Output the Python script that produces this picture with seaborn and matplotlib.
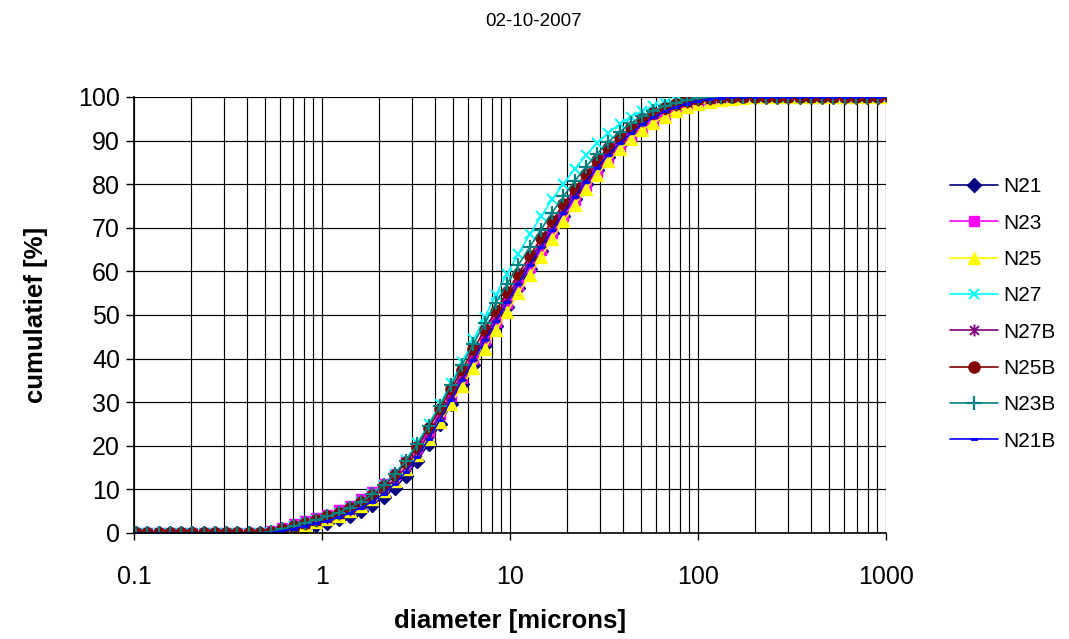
import matplotlib
matplotlib.use("Agg")
import matplotlib.pyplot as plt
from matplotlib.path import Path
from matplotlib.ticker import LogLocator, NullFormatter
import seaborn as sns

# Particle size classes (microns)
diameter = [
    0.1026, 0.1178, 0.1352, 0.1551, 0.1780, 0.2043, 0.2345, 0.2691, 0.3089, 0.3545,
    0.4068, 0.4669, 0.5359, 0.6150, 0.7058, 0.8101, 0.9297, 1.0670, 1.2246, 1.4054,
    1.6130, 1.8512, 2.1245, 2.4383, 2.7983, 3.2115, 3.6858, 4.2301, 4.8547, 5.5716,
    6.3944, 7.3386, 8.4223, 9.6660, 11.093, 12.732, 14.612, 16.769, 19.246, 22.088,
    25.349, 29.093, 33.389, 38.319, 43.978, 50.472, 57.925, 66.479, 76.295, 87.562,
    100.49, 115.33, 132.36, 151.91, 174.34, 200.08, 229.63, 263.53, 302.45, 347.10,
    398.36, 457.18, 524.70, 602.18, 691.10, 793.15, 910.27, 1044.7,
]

# Cumulative undersize (%) per sample
n21 = [
    0, 0, 0, 0, 0, 0, 0, 0, 0, 0,
    0, 0, 0.0, 0.3, 0.8, 1.3, 1.8, 2.4, 3.1, 4.0,
    5.1, 6.5, 8.2, 10.4, 13.1, 16.5, 20.5, 24.9, 29.5, 34.1,
    38.6, 43.1, 47.5, 51.9, 56.2, 60.5, 64.7, 68.8, 72.8, 76.5,
    80.0, 83.3, 86.3, 88.9, 91.3, 93.3, 95.0, 96.4, 97.5, 98.3,
    98.9, 99.4, 99.7, 99.9, 100, 100, 100, 100, 100, 100,
    100, 100, 100, 100, 100, 100, 100, 100,
]
n23 = [
    0, 0, 0, 0, 0, 0, 0, 0, 0, 0,
    0, 0, 0.5, 1.2, 2.0, 2.7, 3.4, 4.2, 5.2, 6.3,
    7.7, 9.3, 11.2, 13.5, 16.3, 19.5, 23.2, 27.2, 31.4, 35.6,
    39.9, 44.2, 48.5, 52.7, 56.9, 61.0, 65.0, 68.9, 72.7, 76.3,
    79.6, 82.8, 85.7, 88.3, 90.6, 92.6, 94.3, 95.7, 96.8, 97.7,
    98.4, 98.9, 99.3, 99.6, 99.8, 99.9, 100, 100, 100, 100,
    100, 100, 100, 100, 100, 100, 100, 100,
]
n25 = [
    0, 0, 0, 0, 0, 0, 0, 0, 0, 0,
    0, 0, 0.1, 0.6, 1.2, 1.9, 2.5, 3.2, 4.0, 5.0,
    6.3, 7.8, 9.7, 11.9, 14.6, 17.8, 21.5, 25.4, 29.6, 33.7,
    37.9, 42.2, 46.5, 50.8, 55.0, 59.2, 63.4, 67.5, 71.5, 75.3,
    78.8, 82.2, 85.3, 88.0, 90.4, 92.4, 94.1, 95.5, 96.7, 97.6,
    98.3, 98.9, 99.3, 99.6, 99.8, 99.9, 100, 100, 100, 100,
    100, 100, 100, 100, 100, 100, 100, 100,
]
n27 = [
    0, 0, 0, 0, 0, 0, 0, 0, 0, 0,
    0, 0, 0.2, 0.8, 1.5, 2.2, 2.9, 3.7, 4.6, 5.8,
    7.2, 8.9, 11.0, 13.6, 16.8, 20.6, 24.9, 29.5, 34.3, 39.3,
    44.4, 49.5, 54.6, 59.5, 64.1, 68.5, 72.6, 76.5, 80.1, 83.5,
    86.6, 89.4, 91.8, 93.8, 95.5, 96.8, 97.9, 98.7, 99.3, 99.7,
    99.9, 100, 100, 100, 100, 100, 100, 100, 100, 100,
    100, 100, 100, 100, 100, 100, 100, 100,
]
n27b = [
    0, 0, 0, 0, 0, 0, 0, 0, 0, 0,
    0, 0, 0.2, 0.8, 1.4, 2.0, 2.7, 3.4, 4.3, 5.3,
    6.6, 8.1, 10.0, 12.3, 15.2, 18.6, 22.6, 27.0, 31.6, 36.1,
    40.7, 45.2, 49.6, 53.9, 58.1, 62.3, 66.4, 70.4, 74.3, 78.0,
    81.5, 84.8, 87.7, 90.3, 92.6, 94.5, 96.0, 97.2, 98.1, 98.8,
    99.3, 99.6, 99.8, 100, 100, 100, 100, 100, 100, 100,
    100, 100, 100, 100, 100, 100, 100, 100,
]
n25b = [
    0, 0, 0, 0, 0, 0, 0, 0, 0, 0,
    0, 0, 0.3, 0.9, 1.6, 2.3, 3.0, 3.8, 4.7, 5.8,
    7.2, 8.8, 10.8, 13.2, 16.2, 19.8, 24.0, 28.4, 33.0, 37.5,
    42.1, 46.6, 51.0, 55.2, 59.4, 63.5, 67.6, 71.6, 75.4, 79.0,
    82.4, 85.6, 88.4, 90.9, 93.1, 94.9, 96.4, 97.5, 98.4, 99.1,
    99.5, 99.8, 100, 100, 100, 100, 100, 100, 100, 100,
    100, 100, 100, 100, 100, 100, 100, 100,
]
n23b = [
    0, 0, 0, 0, 0, 0, 0, 0, 0, 0,
    0, 0, 0.3, 0.9, 1.6, 2.3, 3.0, 3.8, 4.7, 5.8,
    7.2, 8.9, 11.0, 13.5, 16.6, 20.3, 24.6, 29.1, 33.9, 38.6,
    43.4, 48.1, 52.8, 57.2, 61.5, 65.6, 69.6, 73.5, 77.2, 80.7,
    84.0, 87.0, 89.7, 92.0, 94.0, 95.6, 96.9, 97.9, 98.7, 99.3,
    99.7, 99.9, 100, 100, 100, 100, 100, 100, 100, 100,
    100, 100, 100, 100, 100, 100, 100, 100,
]
n21b = [
    0, 0, 0, 0, 0, 0, 0, 0, 0, 0,
    0, 0, 0.1, 0.5, 1.0, 1.6, 2.2, 2.8, 3.6, 4.6,
    5.8, 7.2, 9.0, 11.3, 14.1, 17.5, 21.5, 25.9, 30.5, 35.1,
    39.7, 44.2, 48.6, 52.9, 57.2, 61.4, 65.5, 69.5, 73.4, 77.1,
    80.6, 83.8, 86.8, 89.4, 91.7, 93.7, 95.3, 96.7, 97.7, 98.5,
    99.1, 99.5, 99.8, 100, 100, 100, 100, 100, 100, 100,
    100, 100, 100, 100, 100, 100, 100, 100,
]

series_names = ["N21", "N23", "N25", "N27", "N27B", "N25B", "N23B", "N21B"]
series_values = [n21, n23, n25, n27, n27b, n25b, n23b, n21b]

xtick_values = [0.1, 1, 10, 100, 1000]
xtick_labels = ["0.1", "1", "10", "100", "1000"]
ytick_values = [0, 10, 20, 30, 40, 50, 60, 70, 80, 90, 100]

# Asterisk (x with a vertical bar) and short dash marker shapes
asterisk = Path(
    [(0, -1), (0, 1), (-0.75, -0.75), (0.75, 0.75), (-0.75, 0.75), (0.75, -0.75)],
    [Path.MOVETO, Path.LINETO, Path.MOVETO, Path.LINETO, Path.MOVETO, Path.LINETO],
)
dash = Path(
    [(-1, -0.4), (1, -0.4), (1, 0.4), (-1, 0.4), (-1, -0.4)],
    [Path.MOVETO, Path.LINETO, Path.LINETO, Path.LINETO, Path.CLOSEPOLY],
)

styles = {
    "N21": dict(color="#000080", marker="D", markersize=7.0, markeredgewidth=1.0),
    "N23": dict(color="#FF00FF", marker="s", markersize=7.0, markeredgewidth=1.0),
    "N25": dict(color="#FFFF00", marker="^", markersize=8.5, markeredgewidth=1.0),
    "N27": dict(color="#00FFFF", marker="x", markersize=7.5, markeredgewidth=1.5),
    "N27B": dict(color="#800080", marker=asterisk, markersize=8.5, markeredgewidth=1.4),
    "N25B": dict(color="#800000", marker="o", markersize=8.0, markeredgewidth=1.0),
    "N23B": dict(color="#008080", marker="+", markersize=9.5, markeredgewidth=1.6),
    "N21B": dict(color="#0000FF", marker=dash, markersize=4.5, markeredgewidth=0.6),
}

sns.set_style("white")
plt.rcParams["font.family"] = ["Liberation Sans", "DejaVu Sans"]
plt.rcParams["text.color"] = "black"
plt.rcParams["axes.labelcolor"] = "black"
plt.rcParams["xtick.color"] = "black"
plt.rcParams["ytick.color"] = "black"

fig = plt.figure(figsize=(10.69, 6.39), dpi=100)
ax = fig.add_axes([134 / 1069, 1 - 533 / 639, 752 / 1069, 436 / 639])

for name, vals in zip(series_names, series_values):
    st = styles[name]
    sns.lineplot(
        x=diameter, y=vals, ax=ax, sort=False, errorbar=None, legend=False,
        color=st["color"], linewidth=1.2, label=name,
        marker=st["marker"], markersize=st["markersize"],
        markeredgewidth=st["markeredgewidth"],
        markeredgecolor=st["color"], markerfacecolor=st["color"],
    )

ax.set_xscale("log")
ax.set_xlim(0.1, 1000)
ax.set_ylim(0, 100)
ax.set_xticks(xtick_values)
ax.set_xticklabels(xtick_labels)
ax.xaxis.set_minor_locator(LogLocator(base=10, subs=(2, 3, 4, 5, 6, 7, 8, 9), numticks=20))
ax.xaxis.set_minor_formatter(NullFormatter())
ax.set_yticks(ytick_values)

ax.set_axisbelow(True)
ax.grid(True, which="both", axis="x", color="black", linewidth=0.85)
ax.grid(True, which="major", axis="y", color="black", linewidth=0.85)

for side in ("top", "right"):
    ax.spines[side].set_visible(False)
for side in ("left", "bottom"):
    ax.spines[side].set_color("black")
    ax.spines[side].set_linewidth(1.2)

ax.tick_params(axis="y", which="major", direction="out", length=6, width=1,
               color="black", labelcolor="black", labelsize=18, pad=4, left=True)
ax.tick_params(axis="x", which="major", direction="out", length=5, width=1,
               color="black", labelcolor="black", labelsize=18, pad=18, bottom=True)
ax.tick_params(axis="x", which="minor", length=0)

ax.set_xlabel("diameter [microns]", fontsize=18.5, fontweight="bold", color="black")
ax.set_ylabel("cumulatief [%]", fontsize=18.5, fontweight="bold", color="black")
ax.xaxis.label.set_va("center")
ax.yaxis.label.set_va("center")
ax.xaxis.set_label_coords(0.5, (533 - 621) / 436)
ax.yaxis.set_label_coords((36 - 134) / 752, 0.5)

fig.text(534 / 1069, 1 - 22 / 639, "02-10-2007", ha="center", va="center",
         fontsize=13.5, color="black")

handles, labels = ax.get_legend_handles_labels()
leg = fig.legend(
    handles, labels, loc="center left", bbox_to_anchor=(950 / 1069, 1 - 314 / 639),
    bbox_transform=fig.transFigure, frameon=False, fontsize=15,
    borderpad=0, borderaxespad=0, handlelength=2.3, handletextpad=0.25,
    labelspacing=0.83, markerscale=1.0,
)
for t in leg.get_texts():
    t.set_color("black")

fig.savefig("out.png", dpi=100)
